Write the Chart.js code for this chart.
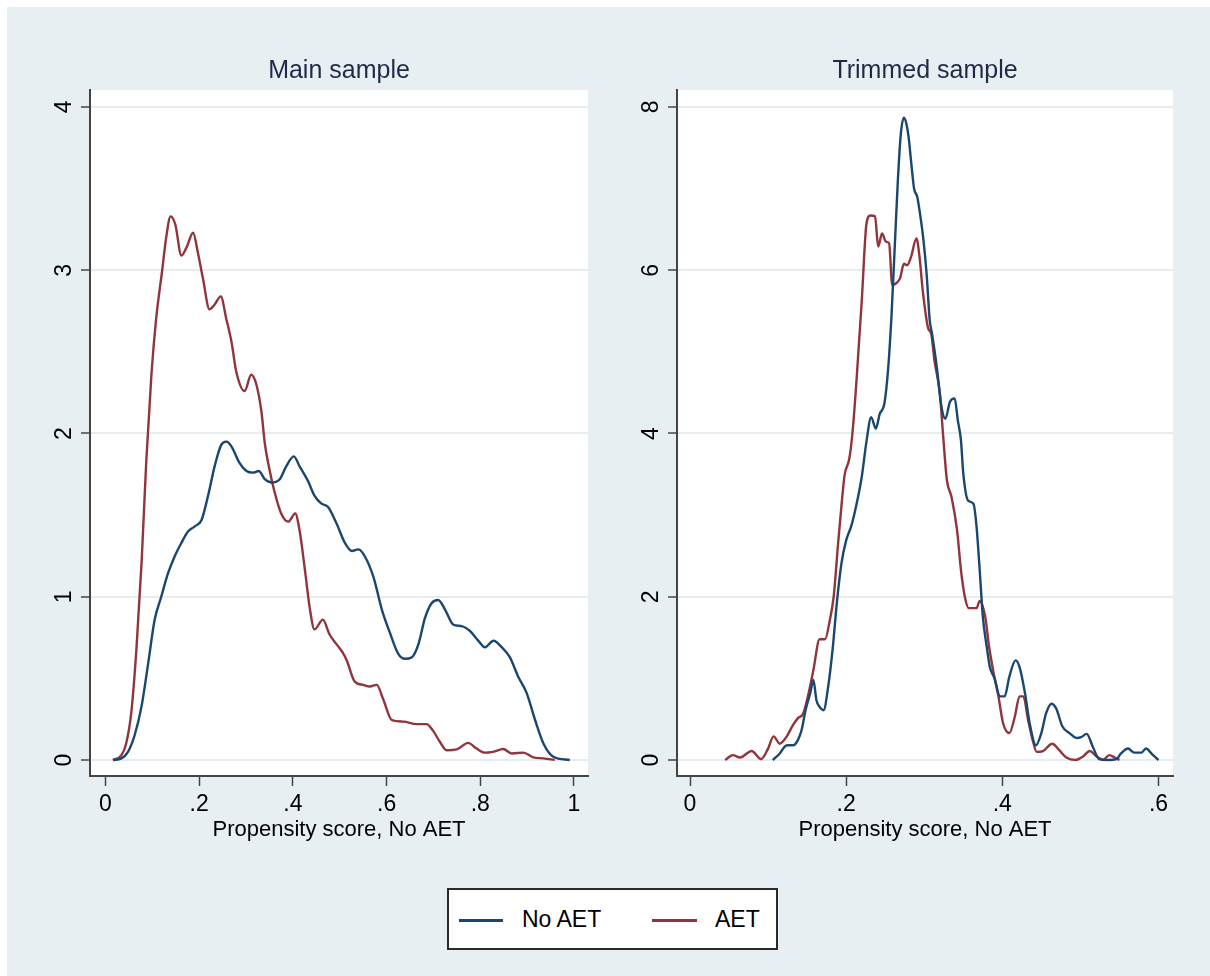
<!DOCTYPE html>
<html>
<head>
<meta charset="utf-8">
<script src="https://cdn.jsdelivr.net/npm/chart.js@4.4.1/dist/chart.umd.min.js"></script>
<style>
  html, body { margin: 0; padding: 0; background: #ffffff; width: 1210px; height: 976px; overflow: hidden; }
  #bg { position: absolute; left: 7px; top: 7px; width: 1203px; height: 969px; background: #e8eff2; }
  canvas { position: absolute; top: 0; }
  #c1 { left: 0; }
  #c2 { left: 605px; }
  #legend { position: absolute; left: 447px; top: 888px; width: 331px; height: 62px; box-sizing: border-box;
            border: 2px solid #2a2a2a; background: #ffffff; font-family: "Liberation Sans", Arial, sans-serif; }
  .sw { position: absolute; height: 3px; top: 29px; }
  .lt { position: absolute; top: 16px; font-size: 23px; line-height: 26px; color: #000; }
</style>
</head>
<body>
<div id="bg"></div>
<canvas id="c1" width="605" height="870"></canvas>
<canvas id="c2" width="605" height="870"></canvas>
<div id="legend">
  <div class="sw" style="left:10px;width:44px;background:#1a476f"></div>
  <div class="lt" style="left:73px">No AET</div>
  <div class="sw" style="left:203px;width:45px;background:#90353b"></div>
  <div class="lt" style="left:266px">AET</div>
</div>
<script>
// ---------------- data ----------------
const seriesNames = ['No AET', 'AET'];

// Main sample, No AET
const mainNoAetX = [0.016,0.034,0.048,0.062,0.077,0.091,0.105,0.119,0.133,0.148,0.162,0.176,0.190,0.205,0.219,0.233,0.247,0.258,0.269,0.286,0.301,0.315,0.327,0.340,0.354,0.372,0.386,0.402,0.414,0.432,0.446,0.461,0.475,0.493,0.511,0.526,0.540,0.554,0.572,0.590,0.607,0.625,0.639,0.654,0.668,0.682,0.696,0.710,0.725,0.742,0.760,0.778,0.796,0.810,0.828,0.846,0.863,0.881,0.899,0.917,0.935,0.956,0.991];
const mainNoAetY = [0,0.01,0.05,0.15,0.33,0.59,0.86,1.0,1.14,1.25,1.33,1.40,1.43,1.47,1.62,1.80,1.93,1.95,1.92,1.82,1.77,1.76,1.77,1.72,1.70,1.72,1.80,1.86,1.80,1.71,1.62,1.57,1.55,1.45,1.33,1.28,1.29,1.245,1.12,0.92,0.78,0.65,0.62,0.63,0.71,0.87,0.96,0.98,0.92,0.83,0.82,0.79,0.73,0.69,0.73,0.69,0.63,0.51,0.41,0.245,0.10,0.02,0.0];

// Main sample, AET
const mainAetX = [0.016,0.034,0.044,0.055,0.066,0.077,0.087,0.098,0.108,0.121,0.130,0.139,0.149,0.162,0.173,0.187,0.197,0.208,0.222,0.233,0.246,0.258,0.269,0.279,0.297,0.311,0.322,0.333,0.340,0.350,0.361,0.375,0.390,0.405,0.414,0.425,0.436,0.446,0.464,0.478,0.493,0.507,0.515,0.532,0.550,0.564,0.579,0.593,0.611,0.636,0.664,0.685,0.699,0.714,0.728,0.750,0.774,0.792,0.810,0.827,0.849,0.867,0.892,0.913,0.935,0.959];
const mainAetY = [0,0.03,0.10,0.29,0.68,1.21,1.83,2.36,2.70,3.0,3.21,3.33,3.28,3.09,3.14,3.23,3.11,2.95,2.76,2.79,2.84,2.70,2.56,2.38,2.26,2.36,2.30,2.13,1.94,1.78,1.64,1.51,1.46,1.51,1.41,1.18,0.93,0.80,0.86,0.77,0.71,0.655,0.61,0.48,0.46,0.45,0.46,0.37,0.245,0.235,0.22,0.22,0.18,0.11,0.06,0.065,0.105,0.07,0.045,0.05,0.067,0.04,0.045,0.016,0.01,0.0];

// Trimmed sample, No AET
const trimNoAetX = [0.106,0.115,0.121,0.125,0.132,0.138,0.143,0.148,0.154,0.158,0.162,0.166,0.171,0.177,0.183,0.188,0.194,0.200,0.207,0.213,0.220,0.226,0.232,0.238,0.243,0.249,0.254,0.258,0.262,0.266,0.270,0.274,0.277,0.280,0.283,0.287,0.291,0.294,0.299,0.303,0.307,0.310,0.316,0.322,0.327,0.333,0.339,0.343,0.347,0.350,0.356,0.363,0.367,0.371,0.375,0.380,0.384,0.390,0.397,0.403,0.409,0.417,0.422,0.429,0.435,0.443,0.450,0.456,0.463,0.469,0.477,0.486,0.495,0.501,0.508,0.516,0.524,0.537,0.546,0.552,0.561,0.569,0.578,0.584,0.592,0.600];
const trimNoAetY = [0,0.08,0.16,0.18,0.18,0.24,0.37,0.61,0.82,0.98,0.73,0.65,0.61,0.90,1.39,1.92,2.41,2.69,2.88,3.12,3.47,3.90,4.20,4.06,4.24,4.37,4.82,5.43,6.24,7.06,7.67,7.87,7.80,7.63,7.35,7.0,6.90,6.73,6.37,5.96,5.39,5.22,4.82,4.33,4.18,4.39,4.43,4.16,3.92,3.51,3.18,3.14,2.86,2.33,1.76,1.39,1.14,1.0,0.78,0.78,1.02,1.22,1.14,0.82,0.45,0.18,0.33,0.57,0.69,0.63,0.41,0.33,0.27,0.28,0.32,0.16,0.01,0,0.01,0.08,0.14,0.09,0.09,0.14,0.07,0];

// Trimmed sample, AET
const trimAetX = [0.045,0.055,0.064,0.079,0.091,0.100,0.107,0.115,0.124,0.132,0.138,0.145,0.151,0.158,0.166,0.173,0.179,0.184,0.190,0.195,0.198,0.204,0.208,0.213,0.220,0.226,0.231,0.237,0.241,0.246,0.251,0.255,0.259,0.264,0.269,0.274,0.278,0.283,0.290,0.294,0.298,0.305,0.309,0.313,0.320,0.324,0.329,0.335,0.342,0.347,0.352,0.357,0.363,0.367,0.371,0.378,0.383,0.389,0.395,0.401,0.409,0.416,0.422,0.427,0.433,0.439,0.444,0.452,0.464,0.473,0.482,0.494,0.503,0.512,0.520,0.529,0.537,0.544,0.550];
const trimAetY = [0,0.06,0.03,0.11,0.01,0.14,0.29,0.20,0.29,0.43,0.51,0.57,0.78,1.10,1.48,1.48,1.71,2.0,2.69,3.22,3.49,3.69,4.0,4.61,5.63,6.57,6.67,6.66,6.29,6.45,6.35,6.33,5.82,5.84,5.90,6.08,6.06,6.16,6.39,6.16,5.76,5.29,5.22,4.90,4.49,4.0,3.43,3.22,2.82,2.33,2.0,1.86,1.86,1.86,1.95,1.76,1.39,1.06,0.78,0.45,0.33,0.53,0.78,0.78,0.49,0.24,0.10,0.11,0.20,0.12,0.03,0,0.04,0.11,0.05,0,0.06,0.03,0];

// ticks
const mainXTicks = [0, 0.2, 0.4, 0.6, 0.8, 1];
const mainXTickLabels = ['0', '.2', '.4', '.6', '.8', '1'];
const mainYTicks = [0, 1, 2, 3, 4];
const mainYTickLabels = ['0', '1', '2', '3', '4'];
const trimXTicks = [0, 0.2, 0.4, 0.6];
const trimXTickLabels = ['0', '.2', '.4', '.6'];
const trimYTicks = [0, 2, 4, 6, 8];
const trimYTickLabels = ['0', '2', '4', '6', '8'];

const xAxisTitle = 'Propensity score, No AET';
const panelTitles = ['Main sample', 'Trimmed sample'];

// ---------------- styling ----------------
const COLORS = ['#1a476f', '#90353b'];
const FONT = '"Liberation Sans", Arial, Helvetica, sans-serif';
const AXIS = '#444444';
const GRID = '#e6edf0';

const plotBg = {
  id: 'plotBg',
  beforeDraw(chart) {
    const { ctx, chartArea: a } = chart;
    ctx.save();
    ctx.fillStyle = '#ffffff';
    ctx.fillRect(a.left, a.top, a.right - a.left, a.bottom - a.top);
    ctx.restore();
  }
};

function toPoints(xs, ys) { return xs.map((x, i) => ({ x: x, y: ys[i] })); }

function makeChart(id, title, series, xTicks, xLabels, yTicks, yLabels, xRange, yRange, yAxisWidth, padRight) {
  return new Chart(document.getElementById(id), {
    type: 'line',
    data: {
      datasets: series.map((s, i) => ({
        label: seriesNames[i],
        data: toPoints(s[0], s[1]),
        borderColor: COLORS[i],
        borderWidth: 2.4,
        pointRadius: 0,
        fill: false,
        cubicInterpolationMode: 'monotone'
      }))
    },
    options: {
      responsive: false,
      animation: false,
      devicePixelRatio: 1,
      layout: { padding: { left: 0, right: padRight, top: 0, bottom: 0 } },
      plugins: {
        legend: { display: false },
        tooltip: { enabled: false },
        title: {
          display: true,
          text: title,
          fullSize: false,
          color: '#1e2a48',
          font: { family: FONT, size: 25, weight: 'normal', lineHeight: 1.2 },
          padding: { top: 56, bottom: 4 }
        }
      },
      scales: {
        x: {
          type: 'linear',
          min: xRange[0],
          max: xRange[1],
          afterBuildTicks: (scale) => { scale.ticks = xTicks.map(v => ({ value: v })); },
          afterFit: (scale) => { scale.height = 94; },
          ticks: {
            autoSkip: false,
            maxRotation: 0,
            minRotation: 0,
            padding: 5,
            color: '#000000',
            font: { family: FONT, size: 23 },
            callback: (v, i) => xLabels[i]
          },
          grid: {
            display: true,
            drawOnChartArea: false,
            drawTicks: true,
            tickLength: 10,
            tickColor: AXIS,
            tickWidth: 1.5
          },
          border: { display: true, color: AXIS, width: 2 },
          title: {
            display: true,
            text: xAxisTitle,
            color: '#000000',
            font: { family: FONT, size: 22, lineHeight: 1.2 },
            padding: { top: 0, bottom: 27 }
          }
        },
        y: {
          type: 'linear',
          min: yRange[0],
          max: yRange[1],
          afterBuildTicks: (scale) => { scale.ticks = yTicks.map(v => ({ value: v })); },
          afterFit: (scale) => { scale.width = yAxisWidth; },
          ticks: {
            autoSkip: false,
            minRotation: 90,
            maxRotation: 90,
            crossAlign: 'center',
            padding: 10,
            color: '#000000',
            font: { family: FONT, size: 23 },
            callback: (v, i) => yLabels[i]
          },
          grid: {
            display: true,
            drawOnChartArea: true,
            color: GRID,
            lineWidth: 2,
            drawTicks: true,
            tickLength: 9,
            tickColor: AXIS,
            tickWidth: 1.5
          },
          border: { display: true, color: AXIS, width: 2 }
        }
      }
    },
    plugins: [plotBg]
  });
}

makeChart('c1', panelTitles[0],
  [[mainNoAetX, mainNoAetY], [mainAetX, mainAetY]],
  mainXTicks, mainXTickLabels, mainYTicks, mainYTickLabels,
  [-0.0331, 1.0299], [-0.098, 4.104], 90, 17);

makeChart('c2', panelTitles[1],
  [[trimNoAetX, trimNoAetY], [trimAetX, trimAetY]],
  trimXTicks, trimXTickLabels, trimYTicks, trimYTickLabels,
  [-0.01665, 0.6186], [-0.196, 8.208], 72, 37);
</script>
</body>
</html>
